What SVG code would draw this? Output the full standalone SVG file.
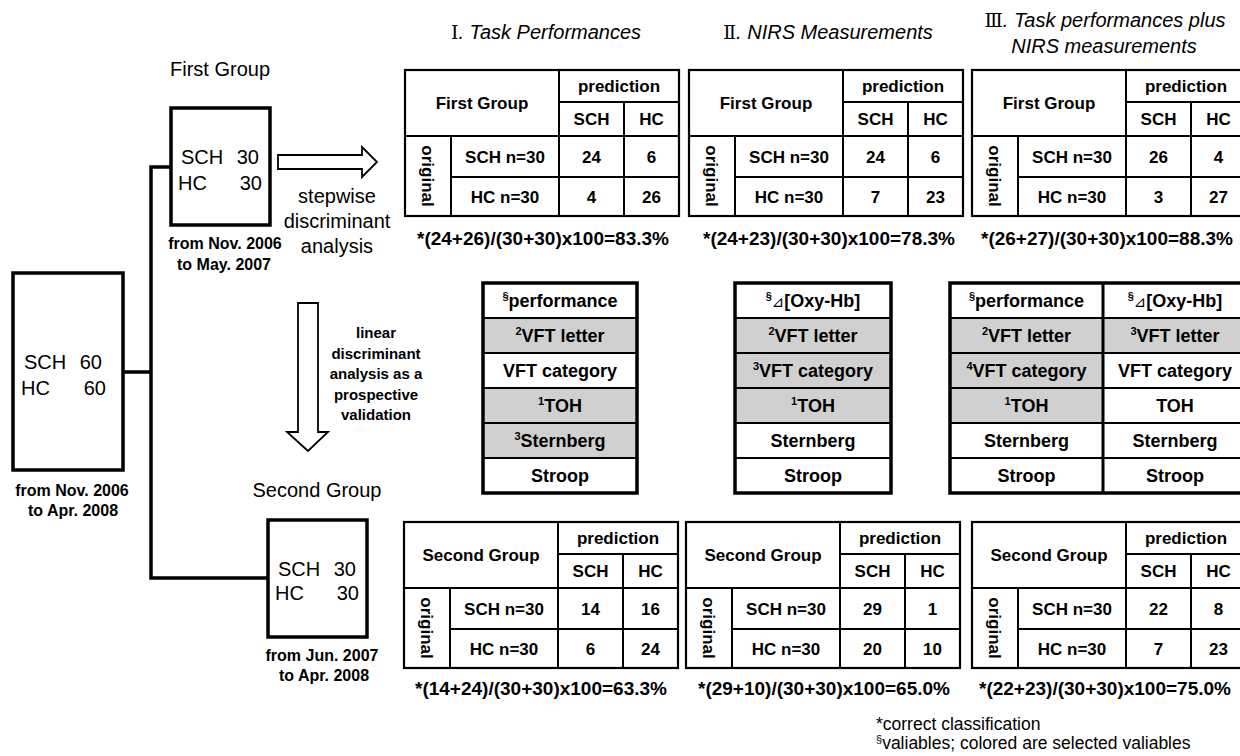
<svg xmlns="http://www.w3.org/2000/svg" width="1240" height="756" viewBox="0 0 1240 756">
<style>
text { font-family: "Liberation Sans", Arial, sans-serif; fill: #000; }
.lbl { font-size: 20px; }
.lblc { font-size: 20px; text-anchor: middle; }
.small { font-size: 16px; font-weight: bold; text-anchor: middle; }
.note { font-size: 15px; font-weight: bold; text-anchor: middle; }
.title { font-size: 20px; text-anchor: middle; font-style: italic; }
.rn { font-family: "DejaVu Serif", "Noto Sans CJK JP", serif; font-style: normal; font-size: 19px; }
.cell { font-size: 17px; font-weight: bold; text-anchor: middle; }
.formula { font-size: 19px; font-weight: bold; text-anchor: middle; }
.mv { font-size: 18px; font-weight: bold; text-anchor: middle; }
.sup { font-size: 11px; }
.tri { font-family: "DejaVu Sans", "Noto Sans CJK JP", sans-serif; font-weight: normal; font-style: italic; font-size: 15px; }
.foot { font-size: 17.5px; }
.box { fill: none; stroke: #000; stroke-width: 3.5; }
.frame { fill: none; stroke: #000; stroke-width: 2.2; }
.grid { fill: none; stroke: #000; stroke-width: 2; }
.thick { fill: none; stroke: #000; stroke-width: 3.5; }
.shade { fill: #d0d0d0; }
.conn { fill: none; stroke: #000; stroke-width: 3.5; }
.hollow { fill: #fff; stroke: #000; stroke-width: 1.8; stroke-linejoin: miter; }
</style>

<!-- connectors -->
<g id="connectors">
  <path class="conn" d="M171,167 H151 V578 H268 M123,372 H151"/>
  <polygon class="hollow" points="278,155 362,155 362,147 377,162 362,177 362,169 278,169"/>
  <polygon class="hollow" points="298,303 318,303 318,432 328,432 308,451 287,432 298,432"/>
  <text class="lblc" x="337" y="203">stepwise</text>
  <text class="lblc" x="337" y="228">discriminant</text>
  <text class="lblc" x="337" y="253">analysis</text>
  <text class="note" x="376" y="338">linear</text>
  <text class="note" x="376" y="358.5">discriminant</text>
  <text class="note" x="376" y="379">analysis as a</text>
  <text class="note" x="376" y="399.5">prospective</text>
  <text class="note" x="376" y="420">validation</text>
</g>

<!-- all subjects -->
<g id="all-subjects">
  <rect class="box" x="13" y="273" width="110" height="197"/>
  <text class="lbl"><tspan x="24" y="369">SCH</tspan><tspan x="102" y="369" text-anchor="end">60</tspan></text>
  <text class="lbl"><tspan x="21" y="395">HC</tspan><tspan x="106" y="395" text-anchor="end">60</tspan></text>
  <text class="small" x="72" y="496">from Nov. 2006</text>
  <text class="small" x="73" y="516">to Apr. 2008</text>
</g>

<!-- first group -->
<g id="first-group">
  <text class="lblc" x="220" y="76">First Group</text>
  <rect class="box" x="171" y="108" width="99" height="117"/>
  <text class="lbl"><tspan x="181" y="164">SCH</tspan><tspan x="259" y="164" text-anchor="end">30</tspan></text>
  <text class="lbl"><tspan x="178" y="190">HC</tspan><tspan x="262" y="190" text-anchor="end">30</tspan></text>
  <text class="small" x="225" y="249">from Nov. 2006</text>
  <text class="small" x="224" y="270">to May. 2007</text>
</g>

<!-- second group -->
<g id="second-group">
  <text class="lblc" x="317" y="497">Second Group</text>
  <rect class="box" x="268" y="520" width="99" height="117"/>
  <text class="lbl"><tspan x="278" y="576">SCH</tspan><tspan x="356" y="576" text-anchor="end">30</tspan></text>
  <text class="lbl"><tspan x="275" y="600">HC</tspan><tspan x="359" y="600" text-anchor="end">30</tspan></text>
  <text class="small" x="322" y="661">from Jun. 2007</text>
  <text class="small" x="324" y="681">to Apr. 2008</text>
</g>

<!-- column titles -->
<g id="titles">
  <text class="title" x="546" y="39"><tspan class="rn">Ⅰ</tspan>. Task Performances</text>
  <text class="title" x="828" y="39"><tspan class="rn">Ⅱ</tspan>. NIRS Measurements</text>
  <text class="title" x="1105" y="27"><tspan class="rn">Ⅲ</tspan>. Task performances plus</text>
  <text class="title" x="1104" y="53">NIRS measurements</text>
</g>

<!-- top confusion tables -->
<g id="table-1-first" transform="translate(405,70)">
  <rect class="frame" x="0" y="0" width="274" height="146"/>
  <path class="grid" d="M154,0V146 M219,32V146 M46,66V146 M154,32H274 M0,66H274 M46,107H274"/>
  <text class="cell" x="77" y="39">First Group</text>
  <text class="cell" x="214" y="22">prediction</text>
  <text class="cell" x="186.5" y="55">SCH</text>
  <text class="cell" x="246.5" y="55">HC</text>
  <text class="cell" transform="translate(23,106) rotate(90)" y="6">original</text>
  <text class="cell" x="100" y="92.5">SCH n=30</text>
  <text class="cell" x="100" y="132.5">HC n=30</text>
  <text class="cell" x="186.5" y="92.5">24</text>
  <text class="cell" x="246.5" y="92.5">6</text>
  <text class="cell" x="186.5" y="132.5">4</text>
  <text class="cell" x="246.5" y="132.5">26</text>
  <text class="formula" x="138" y="175">*(24+26)/(30+30)x100=83.3%</text>
</g>

<g id="table-2-first" transform="translate(689,70)">
  <rect class="frame" x="0" y="0" width="274" height="146"/>
  <path class="grid" d="M154,0V146 M219,32V146 M46,66V146 M154,32H274 M0,66H274 M46,107H274"/>
  <text class="cell" x="77" y="39">First Group</text>
  <text class="cell" x="214" y="22">prediction</text>
  <text class="cell" x="186.5" y="55">SCH</text>
  <text class="cell" x="246.5" y="55">HC</text>
  <text class="cell" transform="translate(23,106) rotate(90)" y="6">original</text>
  <text class="cell" x="100" y="92.5">SCH n=30</text>
  <text class="cell" x="100" y="132.5">HC n=30</text>
  <text class="cell" x="186.5" y="92.5">24</text>
  <text class="cell" x="246.5" y="92.5">6</text>
  <text class="cell" x="186.5" y="132.5">7</text>
  <text class="cell" x="246.5" y="132.5">23</text>
  <text class="formula" x="140" y="175">*(24+23)/(30+30)x100=78.3%</text>
</g>

<g id="table-3-first" transform="translate(972,70)">
  <rect class="frame" x="0" y="0" width="274" height="146"/>
  <path class="grid" d="M154,0V146 M219,32V146 M46,66V146 M154,32H274 M0,66H274 M46,107H274"/>
  <text class="cell" x="77" y="39">First Group</text>
  <text class="cell" x="214" y="22">prediction</text>
  <text class="cell" x="186.5" y="55">SCH</text>
  <text class="cell" x="246.5" y="55">HC</text>
  <text class="cell" transform="translate(23,106) rotate(90)" y="6">original</text>
  <text class="cell" x="100" y="92.5">SCH n=30</text>
  <text class="cell" x="100" y="132.5">HC n=30</text>
  <text class="cell" x="186.5" y="92.5">26</text>
  <text class="cell" x="246.5" y="92.5">4</text>
  <text class="cell" x="186.5" y="132.5">3</text>
  <text class="cell" x="246.5" y="132.5">27</text>
  <text class="formula" x="135" y="175">*(26+27)/(30+30)x100=88.3%</text>
</g>

<!-- variable tables -->
<g id="vars-performance">
  <rect class="shade" x="483" y="318" width="154" height="35"/>
  <rect class="shade" x="483" y="388" width="154" height="70"/>
  <path class="grid" d="M483,318H637 M483,353H637 M483,388H637 M483,423H637 M483,458H637"/>
  <rect class="thick" x="483" y="283" width="154" height="210"/>
  <text class="mv" x="560" y="307"><tspan class="sup" dy="-7">§</tspan><tspan dy="7">performance</tspan></text>
  <text class="mv" x="560" y="342"><tspan class="sup" dy="-7">2</tspan><tspan dy="7">VFT letter</tspan></text>
  <text class="mv" x="560" y="377">VFT category</text>
  <text class="mv" x="560" y="412"><tspan class="sup" dy="-7">1</tspan><tspan dy="7">TOH</tspan></text>
  <text class="mv" x="560" y="447"><tspan class="sup" dy="-7">3</tspan><tspan dy="7">Sternberg</tspan></text>
  <text class="mv" x="560" y="482">Stroop</text>
</g>

<g id="vars-oxyhb">
  <rect class="shade" x="735" y="318" width="156" height="105"/>
  <path class="grid" d="M735,318H891 M735,353H891 M735,388H891 M735,423H891 M735,458H891"/>
  <rect class="thick" x="735" y="283" width="156" height="210"/>
  <text class="mv" x="813" y="307"><tspan class="sup" dy="-7">§</tspan><tspan class="tri" dy="7">⊿</tspan>[Oxy-Hb]</text>
  <text class="mv" x="813" y="342"><tspan class="sup" dy="-7">2</tspan><tspan dy="7">VFT letter</tspan></text>
  <text class="mv" x="813" y="377"><tspan class="sup" dy="-7">3</tspan><tspan dy="7">VFT category</tspan></text>
  <text class="mv" x="813" y="412"><tspan class="sup" dy="-7">1</tspan><tspan dy="7">TOH</tspan></text>
  <text class="mv" x="813" y="447">Sternberg</text>
  <text class="mv" x="813" y="482">Stroop</text>
</g>

<g id="vars-combined">
  <rect class="shade" x="950" y="318" width="153" height="105"/>
  <rect class="shade" x="1103" y="318" width="145" height="35"/>
  <path class="grid" d="M950,318H1248 M950,353H1248 M950,388H1248 M950,423H1248 M950,458H1248"/>
  <path class="thick" d="M1103,283V493" style="stroke-width:3"/>
  <rect class="thick" x="950" y="283" width="298" height="210"/>
  <text class="mv" x="1026.5" y="307"><tspan class="sup" dy="-7">§</tspan><tspan dy="7">performance</tspan></text>
  <text class="mv" x="1026.5" y="342"><tspan class="sup" dy="-7">2</tspan><tspan dy="7">VFT letter</tspan></text>
  <text class="mv" x="1026.5" y="377"><tspan class="sup" dy="-7">4</tspan><tspan dy="7">VFT category</tspan></text>
  <text class="mv" x="1026.5" y="412"><tspan class="sup" dy="-7">1</tspan><tspan dy="7">TOH</tspan></text>
  <text class="mv" x="1026.5" y="447">Sternberg</text>
  <text class="mv" x="1026.5" y="482">Stroop</text>
  <text class="mv" x="1175" y="307"><tspan class="sup" dy="-7">§</tspan><tspan class="tri" dy="7">⊿</tspan>[Oxy-Hb]</text>
  <text class="mv" x="1175" y="342"><tspan class="sup" dy="-7">3</tspan><tspan dy="7">VFT letter</tspan></text>
  <text class="mv" x="1175" y="377">VFT category</text>
  <text class="mv" x="1175" y="412">TOH</text>
  <text class="mv" x="1175" y="447">Sternberg</text>
  <text class="mv" x="1175" y="482">Stroop</text>
</g>

<!-- bottom confusion tables -->
<g id="table-1-second" transform="translate(404,522)">
  <rect class="frame" x="0" y="0" width="274" height="146"/>
  <path class="grid" d="M154,0V146 M219,32V146 M46,66V146 M154,32H274 M0,66H274 M46,107H274"/>
  <text class="cell" x="77" y="39">Second Group</text>
  <text class="cell" x="214" y="22">prediction</text>
  <text class="cell" x="186.5" y="55">SCH</text>
  <text class="cell" x="246.5" y="55">HC</text>
  <text class="cell" transform="translate(23,106) rotate(90)" y="6">original</text>
  <text class="cell" x="100" y="92.5">SCH n=30</text>
  <text class="cell" x="100" y="132.5">HC n=30</text>
  <text class="cell" x="186.5" y="92.5">14</text>
  <text class="cell" x="246.5" y="92.5">16</text>
  <text class="cell" x="186.5" y="132.5">6</text>
  <text class="cell" x="246.5" y="132.5">24</text>
  <text class="formula" x="137" y="173">*(14+24)/(30+30)x100=63.3%</text>
</g>

<g id="table-2-second" transform="translate(686,522)">
  <rect class="frame" x="0" y="0" width="274" height="146"/>
  <path class="grid" d="M154,0V146 M219,32V146 M46,66V146 M154,32H274 M0,66H274 M46,107H274"/>
  <text class="cell" x="77" y="39">Second Group</text>
  <text class="cell" x="214" y="22">prediction</text>
  <text class="cell" x="186.5" y="55">SCH</text>
  <text class="cell" x="246.5" y="55">HC</text>
  <text class="cell" transform="translate(23,106) rotate(90)" y="6">original</text>
  <text class="cell" x="100" y="92.5">SCH n=30</text>
  <text class="cell" x="100" y="132.5">HC n=30</text>
  <text class="cell" x="186.5" y="92.5">29</text>
  <text class="cell" x="246.5" y="92.5">1</text>
  <text class="cell" x="186.5" y="132.5">20</text>
  <text class="cell" x="246.5" y="132.5">10</text>
  <text class="formula" x="138" y="173">*(29+10)/(30+30)x100=65.0%</text>
</g>

<g id="table-3-second" transform="translate(972,522)">
  <rect class="frame" x="0" y="0" width="274" height="146"/>
  <path class="grid" d="M154,0V146 M219,32V146 M46,66V146 M154,32H274 M0,66H274 M46,107H274"/>
  <text class="cell" x="77" y="39">Second Group</text>
  <text class="cell" x="214" y="22">prediction</text>
  <text class="cell" x="186.5" y="55">SCH</text>
  <text class="cell" x="246.5" y="55">HC</text>
  <text class="cell" transform="translate(23,106) rotate(90)" y="6">original</text>
  <text class="cell" x="100" y="92.5">SCH n=30</text>
  <text class="cell" x="100" y="132.5">HC n=30</text>
  <text class="cell" x="186.5" y="92.5">22</text>
  <text class="cell" x="246.5" y="92.5">8</text>
  <text class="cell" x="186.5" y="132.5">7</text>
  <text class="cell" x="246.5" y="132.5">23</text>
  <text class="formula" x="133" y="173">*(22+23)/(30+30)x100=75.0%</text>
</g>

<!-- footnotes -->
<g id="footnotes">
  <text class="foot" x="876" y="730">*correct classification</text>
  <text class="foot" x="876" y="749"><tspan class="sup" dy="-6">§</tspan><tspan dy="6">valiables; colored are selected valiables</tspan></text>
</g>
</svg>
